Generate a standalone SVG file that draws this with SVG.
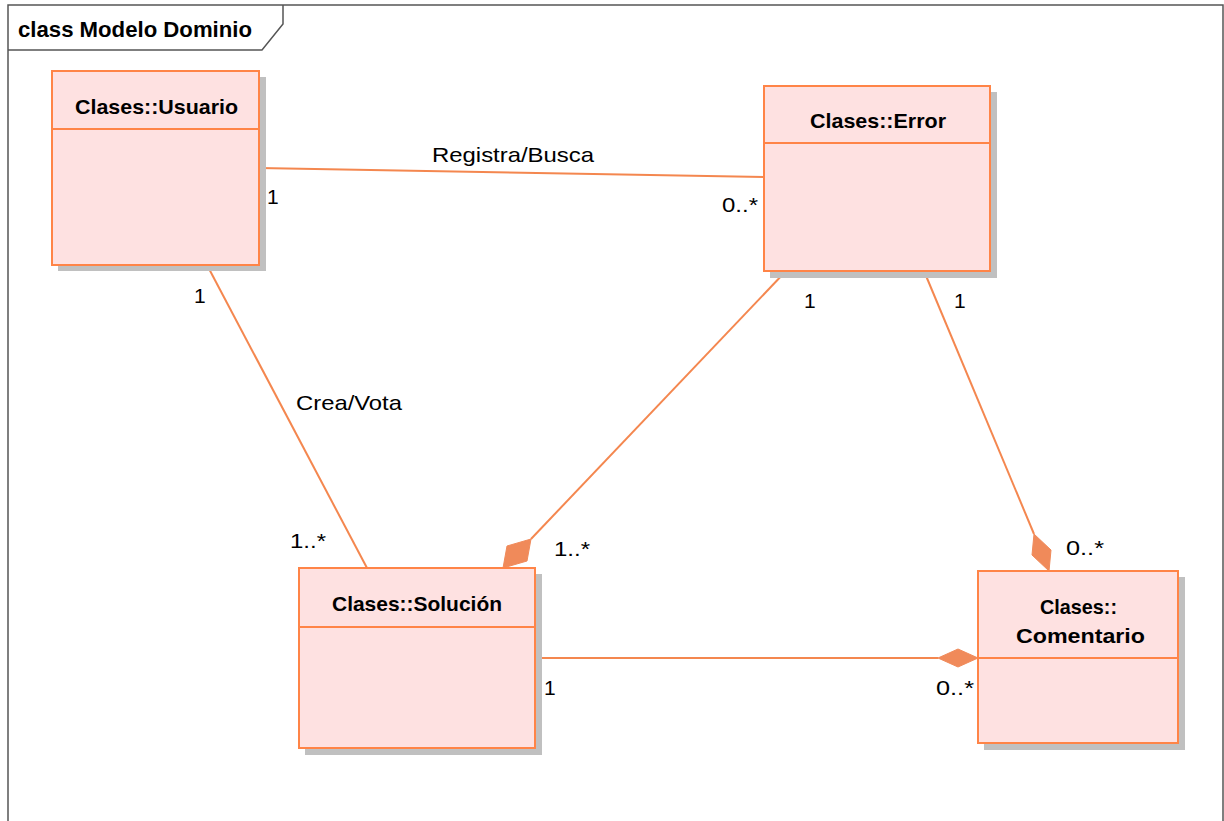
<svg xmlns="http://www.w3.org/2000/svg" width="1224" height="821" viewBox="0 0 1224 821">
  <style>
    .frame { fill: none; stroke: #555555; stroke-width: 1.5; }
    .shadow { fill: #c0c0c0; }
    .box { fill: #fee1e1; stroke: #ff8447; stroke-width: 2; }
    .sep { stroke: #ff8447; stroke-width: 2; }
    .conn { stroke: #f4874f; stroke-width: 2; fill: none; }
    .diamond { fill: #f08a5a; stroke: #f08a5a; stroke-width: 1; }
    .title { font-family: "Liberation Sans", Arial, sans-serif; font-size: 22px; font-weight: bold; fill: #000; }
    .cls { font-family: "Liberation Sans", Arial, sans-serif; font-size: 21px; font-weight: bold; fill: #000; }
    .lbl { font-family: "Liberation Sans", Arial, sans-serif; font-size: 21px; fill: #000; }
  </style>

  <rect width="1224" height="821" fill="#ffffff"/>

  <!-- diagram frame with name tab -->
  <g id="frame">
    <path class="frame" d="M8,830 V5 H1223 V830"/>
    <path class="frame" d="M8,50 H262 L283,24 V5"/>
    <text class="title" x="18" y="37" textLength="234" lengthAdjust="spacingAndGlyphs">class Modelo Dominio</text>
  </g>

  <!-- associations -->
  <g id="connectors">
    <line class="conn" x1="259" y1="168" x2="764" y2="177"/>
    <line class="conn" x1="207" y1="265" x2="367" y2="568"/>
    <line class="conn" x1="786" y1="271" x2="531" y2="539"/>
    <polygon class="diamond" points="503,568 507,546 531,539 527,561"/>
    <line class="conn" x1="924" y1="271" x2="1034" y2="534"/>
    <polygon class="diamond" points="1049,571 1032,555 1034,534 1051,550"/>
    <line class="conn" x1="535" y1="658" x2="938" y2="658"/>
    <polygon class="diamond" points="978,658 958,667 938,658 958,649"/>

    <text class="lbl" x="432" y="162" textLength="162" lengthAdjust="spacingAndGlyphs">Registra/Busca</text>
    <text class="lbl" x="267" y="204">1</text>
    <text class="lbl" x="722" y="212" textLength="36" lengthAdjust="spacingAndGlyphs">0..*</text>
    <text class="lbl" x="296" y="410" textLength="106" lengthAdjust="spacingAndGlyphs">Crea/Vota</text>
    <text class="lbl" x="194" y="303">1</text>
    <text class="lbl" x="290" y="548" textLength="36" lengthAdjust="spacingAndGlyphs">1..*</text>
    <text class="lbl" x="804" y="308">1</text>
    <text class="lbl" x="554" y="556" textLength="36" lengthAdjust="spacingAndGlyphs">1..*</text>
    <text class="lbl" x="954" y="308">1</text>
    <text class="lbl" x="1066" y="555" textLength="38" lengthAdjust="spacingAndGlyphs">0..*</text>
    <text class="lbl" x="544" y="695">1</text>
    <text class="lbl" x="936" y="695" textLength="38" lengthAdjust="spacingAndGlyphs">0..*</text>
  </g>

  <g id="usuario">
    <rect class="shadow" x="58" y="77" width="208" height="194"/>
    <rect class="box" x="52" y="71" width="207" height="194"/>
    <line class="sep" x1="52" y1="129" x2="259" y2="129"/>
    <text class="cls" x="75" y="114" textLength="163" lengthAdjust="spacingAndGlyphs">Clases::Usuario</text>
  </g>

  <g id="error">
    <rect class="shadow" x="770" y="92" width="227" height="186"/>
    <rect class="box" x="764" y="86" width="226" height="185"/>
    <line class="sep" x1="764" y1="143" x2="990" y2="143"/>
    <text class="cls" x="810" y="128" textLength="136" lengthAdjust="spacingAndGlyphs">Clases::Error</text>
  </g>

  <g id="solucion">
    <rect class="shadow" x="305" y="574" width="237" height="181"/>
    <rect class="box" x="299" y="568" width="236" height="180"/>
    <line class="sep" x1="299" y1="627" x2="535" y2="627"/>
    <text class="cls" x="332" y="611" textLength="170" lengthAdjust="spacingAndGlyphs">Clases::Solución</text>
  </g>

  <g id="comentario">
    <rect class="shadow" x="984" y="577" width="201" height="173"/>
    <rect class="box" x="978" y="571" width="200" height="172"/>
    <line class="sep" x1="978" y1="658" x2="1178" y2="658"/>
    <text class="cls" x="1040" y="614" textLength="77" lengthAdjust="spacingAndGlyphs">Clases::</text>
    <text class="cls" x="1016" y="643" textLength="129" lengthAdjust="spacingAndGlyphs">Comentario</text>
  </g>
</svg>
